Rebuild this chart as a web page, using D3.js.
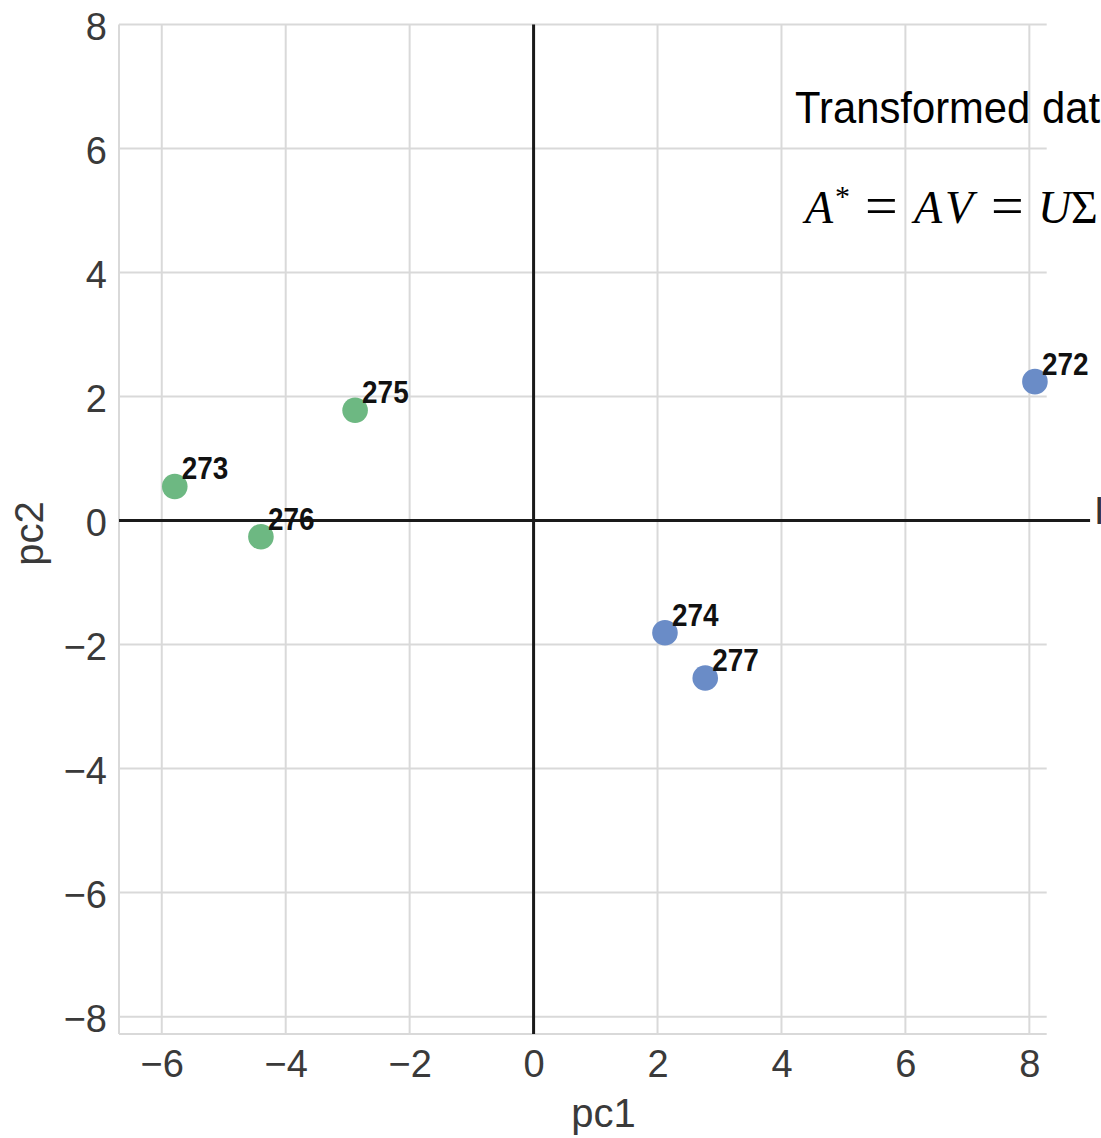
<!DOCTYPE html>
<html>
<head>
<meta charset="utf-8">
<script src="https://cdn.jsdelivr.net/npm/d3@7"></script>
<style>
  html, body { margin: 0; padding: 0; background: #fff; overflow: hidden; }
  svg { display: block; }
</style>
</head>
<body>
<div id="chart"></div>
<script>
// ---- data ----
const pointIds   = ["272", "273", "274", "275", "276", "277"];
const pc1Values  = [8.09, -5.79, 2.12, -2.88, -4.40, 2.77];
const pc2Values  = [2.24, 0.55, -1.81, 1.78, -0.26, -2.54];
const clusterOf  = ["blue", "green", "blue", "green", "green", "blue"];
const xTicks     = [-6, -4, -2, 0, 2, 4, 6, 8];
const yTicks     = [-8, -6, -4, -2, 0, 2, 4, 6, 8];
const xDomain    = [-6.69, 8.28];
const yDomain    = [-8.28, 8.0];
const hLineExtent = [-6.69, 8.98];
const titleText  = "Transformed data";

const W = 1101, H = 1138;
const colors = { blue: "#6a8cc7", green: "#6db882" };
const gridColor = "#d9d9d9";
const tickColor = "#3a3a3a";

const svg = d3.select("#chart").append("svg")
  .attr("width", W).attr("height", H);

const x = d3.scaleLinear().domain(xDomain).range([119, 1046.7]);
const y = d3.scaleLinear().domain(yDomain).range([1034, 24.5]);

// gridlines
svg.append("g").selectAll("line").data(xTicks).join("line")
  .attr("x1", d => x(d)).attr("x2", d => x(d))
  .attr("y1", y.range()[1]).attr("y2", y.range()[0])
  .attr("stroke", gridColor).attr("stroke-width", 2);
svg.append("g").selectAll("line").data(yTicks).join("line")
  .attr("y1", d => y(d)).attr("y2", d => y(d))
  .attr("x1", x.range()[0]).attr("x2", x.range()[1])
  .attr("stroke", gridColor).attr("stroke-width", 2);

// spines (left and bottom)
svg.append("line").attr("x1", x.range()[0]).attr("x2", x.range()[0])
  .attr("y1", y.range()[1]).attr("y2", y.range()[0])
  .attr("stroke", gridColor).attr("stroke-width", 2);
svg.append("line").attr("x1", x.range()[0]).attr("x2", x.range()[1])
  .attr("y1", y.range()[0]).attr("y2", y.range()[0])
  .attr("stroke", gridColor).attr("stroke-width", 2);

// tick labels via d3 axes (no domain/tick lines)
const fmt = d => (d < 0 ? "\u2212" + Math.abs(d) : String(d));
const xAxis = svg.append("g").attr("transform", `translate(0,${y.range()[0]})`)
  .call(d3.axisBottom(x).tickValues(xTicks).tickFormat(fmt).tickSize(0).tickPadding(43));
const yAxis = svg.append("g").attr("transform", `translate(${x.range()[0]},0)`)
  .call(d3.axisLeft(y).tickValues(yTicks).tickFormat(fmt).tickSize(0).tickPadding(12));
[xAxis, yAxis].forEach(g => {
  g.select(".domain").remove();
  g.selectAll("text")
    .attr("fill", tickColor)
    .style("font-family", "'Liberation Sans', Arial, sans-serif")
    .style("font-size", "38px");
});
xAxis.selectAll("text").attr("dy", null).attr("y", 43);
yAxis.selectAll("text").attr("dy", "0.4em");

// axis titles
svg.append("text").attr("x", x(0) + 70).attr("y", 1127)
  .attr("text-anchor", "middle").attr("fill", tickColor)
  .style("font-family", "'Liberation Sans', Arial, sans-serif").style("font-size", "40px")
  .text("pc1");
svg.append("text").attr("transform", `translate(43,${y(0) + 13}) rotate(-90)`)
  .attr("text-anchor", "middle").attr("fill", tickColor)
  .style("font-family", "'Liberation Sans', Arial, sans-serif").style("font-size", "40px")
  .text("pc2");

// black zero lines
svg.append("line").attr("x1", x(0)).attr("x2", x(0))
  .attr("y1", y.range()[1]).attr("y2", y.range()[0])
  .attr("stroke", "#1a1a1a").attr("stroke-width", 3);
svg.append("line").attr("x1", x(hLineExtent[0])).attr("x2", x(hLineExtent[1]))
  .attr("y1", y(0)).attr("y2", y(0))
  .attr("stroke", "#1a1a1a").attr("stroke-width", 3);

// points
const pts = pointIds.map((id, i) => ({ id, px: pc1Values[i], py: pc2Values[i], c: clusterOf[i] }));
svg.append("g").selectAll("circle").data(pts).join("circle")
  .attr("cx", d => x(d.px)).attr("cy", d => y(d.py)).attr("r", 12.8)
  .attr("fill", d => colors[d.c]);

// point labels
svg.append("g").selectAll("text").data(pts).join("text")
  .attr("transform", d => `translate(${x(d.px) + 7},${y(d.py) - 7}) scale(0.9,1)`)
  .attr("fill", "#111")
  .style("font-family", "'Liberation Sans', Arial, sans-serif")
  .style("font-size", "31px").style("font-weight", "bold")
  .text(d => d.id);

// overlay slide text
svg.append("text").attr("transform", "translate(795,123) scale(0.95,1)")
  .attr("fill", "#000")
  .style("font-family", "'Liberation Sans', Arial, sans-serif").style("font-size", "44px")
  .text(titleText);

const eq = svg.append("g").attr("fill", "#000")
  .style("font-family", "'Liberation Serif', 'Times New Roman', serif");
const eqParts = [
  { t: "A", x: 805, dy: 0, size: 46, italic: true },
  { t: "*", x: 835, dy: -17, size: 30, italic: false },
  { t: "=", x: 865, dy: 2, size: 58, italic: false },
  { t: "A", x: 914, dy: 0, size: 46, italic: true },
  { t: "V", x: 945, dy: 0, size: 46, italic: true },
  { t: "=", x: 991, dy: 2, size: 58, italic: false },
  { t: "U", x: 1038, dy: 0, size: 46, italic: true },
  { t: "\u03A3", x: 1071, dy: 0, size: 46, italic: false }
];
eq.selectAll("text").data(eqParts).join("text")
  .attr("x", d => d.x).attr("y", d => 223 + d.dy)
  .style("font-size", d => d.size + "px")
  .style("font-style", d => d.italic ? "italic" : "normal")
  .text(d => d.t);

// cropped fragment at right edge
svg.append("text").attr("x", 1094).attr("y", 524).attr("fill", "#333")
  .style("font-family", "'Liberation Sans', Arial, sans-serif").style("font-size", "38px")
  .text("I");
</script>
</body>
</html>
